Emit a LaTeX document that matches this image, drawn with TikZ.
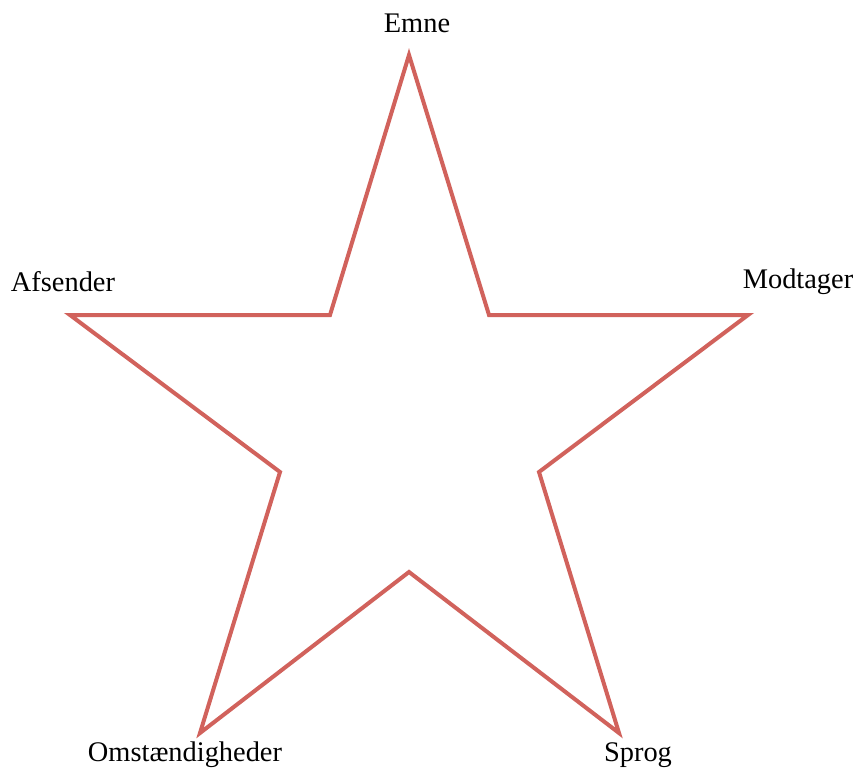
\documentclass[tikz,border=0pt]{standalone}
\usepackage{fontspec}
\setmainfont{Liberation Serif}
\usepackage{tikz}
\usetikzlibrary{positioning}
\definecolor{starcolor}{RGB}{209, 98, 92}

\tikzset{
    starline/.style={draw=starcolor, line width=2pt, line join=miter},
    pointlabel/.style={inner sep=0pt, font=\fontsize{14.2}{17}\selectfont}
}

\begin{document}
\begin{tikzpicture}[x=0.5pt, y=-0.5pt]
\useasboundingbox (0,0) rectangle (855,770);
% outer and inner points of the star
\coordinate (top) at (409,55);
\coordinate (ir) at (489,315);
\coordinate (right) at (748,315);
\coordinate (ibr) at (539,472);
\coordinate (bright) at (619,733);
\coordinate (ib) at (409,572);
\coordinate (bleft) at (200,733);
\coordinate (ibl) at (280,472);
\coordinate (left) at (70,315);
\coordinate (il) at (330,315);
\draw[starline] (top) -- (ir) -- (right) -- (ibr) -- (bright) -- (ib)
    -- (bleft) -- (ibl) -- (left) -- (il) -- cycle;
% labels
\node[pointlabel] (emne) at (417,23) {Emne};
\node[pointlabel] (afsender) at (63,282) {Afsender};
\node[pointlabel] (modtager) at (798,282) {Modtager};
\node[pointlabel] (omst) at (185,755) {Omstændigheder};
\node[pointlabel] (sprog) at (638,755) {Sprog};
\end{tikzpicture}
\end{document}
